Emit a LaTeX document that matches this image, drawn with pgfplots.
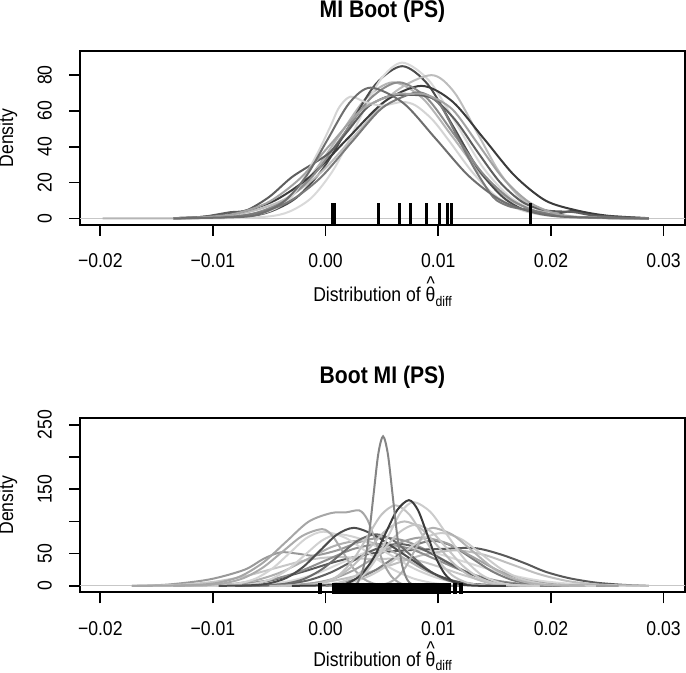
\documentclass[border=0pt]{standalone}
\usepackage{pgfplots}
\pgfplotsset{compat=1.18}
\usepackage{fontspec}
\setmainfont{Liberation Sans}[FakeStretch=0.88]
\newcommand{\thetahat}{\ooalign{θ\cr\hidewidth\raisebox{0.55em}{\textasciicircum}\hidewidth\cr}}
\pgfplotsset{
  rplot/.style={
    scale only axis, width=302.5pt, height=87pt,
    xmin=-0.0218, xmax=0.0319,
    axis line style={line width=0.8pt, black},
    every tick/.style={line width=0.8pt, black},
    tick align=outside, tick pos=left,
    major tick length=5.5pt,
    scaled x ticks=false, scaled y ticks=false,
    xtick={-0.02,-0.01,0,0.01,0.02,0.03},
    xticklabels={−0.02,−0.01,0.00,0.01,0.02,0.03},
    xticklabel shift=5.5pt, yticklabel shift=5pt,
    xticklabel style={font=\fontsize{10}{12}\selectfont},
    yticklabel style={rotate=90, anchor=south, font=\fontsize{10}{12}\selectfont},
    clip=true,
  },
  dens/.style={smooth, line width=1pt, no markers},
  zero/.style={black!22, line width=0.5pt, no markers},
}
\begin{document}
\begin{tikzpicture}
\useasboundingbox (0,0) rectangle (343pt,-336.5pt);
% ---------------- top panel ----------------
\begin{axis}[rplot, at={(40pt,-112.4pt)}, anchor=south west,
  ymin=-3.6, ymax=93.6, ytick={0,20,40,60,80}, yticklabels={0,20,40,60,80}]
\addplot[zero] coordinates {(-0.03,0) (0.04,0)};
\addplot[dens, black!29] coordinates {(-0.0198,0) (-0.0135,0.02) (-0.0084,0.84) (-0.006,3.34) (-0.0036,10.3) (-0.0012,24.7) (0.0012,46.1) (0.0036,67.1) (0.006,76) (0.0086,67.1) (0.0112,46.1) (0.0138,24.7) (0.0164,10.3) (0.019,3.34) (0.0216,0.84) (0.0268,0.02) (0.0287,0)};
\addplot[dens, black!70] coordinates {(-0.0135,0.05) (-0.0120,0.1) (-0.0073,0.9) (-0.00495,3.7) (-0.0026,11.5) (-0.00025,27.6) (0.0021,51.6) (0.00445,75.0) (0.0068,85) (0.00905,75.0) (0.0113,51.6) (0.01355,27.6) (0.0158,11.5) (0.01805,3.7) (0.0203,2.5) (0.022,4.2) (0.0235,2.5) (0.0255,0.5) (0.0287,0)};
\addplot[dens, black!15] coordinates {(-0.0135,0) (-0.0092,0.03) (-0.0052,0.97) (-0.0032,3.8) (-0.0012,11.8) (0.0008,28.2) (0.0028,52.8) (0.0048,76.8) (0.0068,87) (0.0092,76.8) (0.0116,52.8) (0.014,28.2) (0.0164,11.8) (0.0188,3.8) (0.0212,0.97) (0.026,0.03) (0.0287,0)};
\addplot[dens, black!26] coordinates {(-0.0135,0.15) (-0.0101,0.89) (-0.00685,3.5) (-0.0036,10.8) (-0.00035,26.0) (0.0029,48.5) (0.00615,70.6) (0.0094,80) (0.0114,70.6) (0.0134,48.5) (0.0154,26.0) (0.0174,10.8) (0.0194,3.5) (0.0214,0.89) (0.0254,0.02) (0.0287,0)};
\addplot[dens, black!77] coordinates {(-0.0135,0.1) (-0.011,0.82) (-0.00775,3.25) (-0.0045,10.0) (-0.00125,24.0) (0.002,44.9) (0.00525,65.3) (0.0085,74) (0.01125,65.3) (0.014,44.9) (0.01675,24.0) (0.0195,10.0) (0.02225,4.5) (0.025,1.5) (0.0287,0.1)};
\addplot[dens, black!45] coordinates {(-0.0135,0.02) (-0.0085,0.84) (-0.006,3.34) (-0.0035,10.3) (-0.001,24.7) (0.0015,46.1) (0.004,67.1) (0.0065,76) (0.009,67.1) (0.0115,46.1) (0.014,24.7) (0.0165,10.3) (0.019,3.34) (0.0215,0.84) (0.0265,0.02) (0.0287,0)};
\addplot[dens, black!63] coordinates {(-0.0135,0.1) (-0.011,0.8) (-0.0085,3.4) (-0.007,4.5) (-0.005,12) (-0.003,23) (-0.001,31) (0.0004,37) (0.002,49) (0.0037,62) (0.0055,68) (0.0075,69) (0.0095,67) (0.0115,55) (0.0135,37) (0.0155,20) (0.0175,9) (0.0195,4.5) (0.022,3.5) (0.024,1.5) (0.0287,0)};
\addplot[dens, black!17] coordinates {(-0.0135,0) (-0.010,0.5) (-0.007,1.5) (-0.005,4) (-0.003,12) (-0.001,33) (0.0004,51) (0.0012,62) (0.0022,68) (0.0035,65) (0.005,63) (0.0068,65) (0.008,63) (0.0095,55) (0.011,43) (0.013,26) (0.015,13) (0.017,5.5) (0.019,2.2) (0.022,0.6) (0.0287,0)};
\addplot[dens, black!52] coordinates {(-0.0135,0.05) (-0.0087,0.78) (-0.00595,3.1) (-0.0032,9.5) (-0.00045,22.7) (0.0023,42.5) (0.00505,61.8) (0.0078,70) (0.009,69) (0.0102,63) (0.0115,48) (0.0131,29) (0.0145,15) (0.0152,10) (0.0164,6.5) (0.0178,5) (0.019,3.5) (0.021,1.2) (0.024,0.3) (0.0287,0)};
\addplot[dens, black!36] coordinates {(-0.0135,0.1) (-0.0105,0.77) (-0.00775,3.0) (-0.005,9.3) (-0.00225,22.4) (0.0005,41.8) (0.00325,60.9) (0.006,69) (0.0075,69.5) (0.009,69) (0.01125,60.9) (0.0135,41.8) (0.01575,22.4) (0.018,9.3) (0.02025,3.0) (0.0225,0.77) (0.027,0.02) (0.0287,0)};
\addplot[dens, black!57] coordinates {(-0.0135,0) (-0.0074,0.81) (-0.0055,3.2) (-0.0036,9.9) (-0.0017,23.7) (0.0002,44.3) (0.0021,64.4) (0.004,73) (0.0069,64.4) (0.0098,44.3) (0.0127,23.7) (0.0156,9.9) (0.0185,3.2) (0.0214,0.81) (0.0287,0)};
\addplot[only marks, mark=|, mark size=5.6pt, mark options={black, line width=1.7pt}] coordinates {(0.00059,2.1) (0.00074,2.1) (0.00468,2.1) (0.00654,2.1) (0.00756,2.1) (0.00894,2.1) (0.0101,2.1) (0.01084,2.1) (0.01116,2.1) (0.01816,2.1)};
\end{axis}
% ---------------- bottom panel ----------------
\begin{axis}[rplot, at={(40pt,-296.15pt)}, anchor=south west,
  ymin=-10, ymax=260, ytick={0,50,100,150,200,250}, yticklabels={0,50,,150,,250}]
\addplot[zero] coordinates {(-0.03,0) (0.04,0)};
\addplot[dens, black!40] coordinates {(-0.0172,0) (-0.014,2) (-0.0103,10) (-0.0072,25) (-0.0055,42) (-0.0040,52) (-0.0025,50) (-0.001,47) (0.001,55) (0.003,68) (0.005,75) (0.007,70) (0.009,55) (0.011,35) (0.013,18) (0.015,7) (0.017,2.5) (0.020,0.5) (0.024,0)};
\addplot[dens, black!65] coordinates {(-0.0135,0) (-0.008,2) (-0.005,8) (-0.002,22) (0.001,38) (0.004,50) (0.007,55) (0.010,57) (0.0132,58.6) (0.0155,49) (0.0177,35) (0.0195,22) (0.0216,12) (0.024,5) (0.0265,1.5) (0.0287,0)};
\addplot[dens, black!15] coordinates {(-0.0172,0) (-0.0075,0.67) (-0.00525,2.6) (-0.003,8.1) (-0.00075,19.5) (0.0015,36.4) (0.00375,53) (0.006,60) (0.00925,53) (0.0125,36.4) (0.01575,19.5) (0.019,8.1) (0.02225,2.6) (0.0255,0.67) (0.0287,0)};
\addplot[dens, black!22] coordinates {(-0.0172,0) (-0.0155,0.5) (-0.01275,2.0) (-0.01,6.1) (-0.00725,14.6) (-0.0045,27.3) (-0.00175,39.7) (0.001,45) (0.0035,42) (0.006,42) (0.008,40) (0.010,30) (0.012,18) (0.014,8) (0.016,3) (0.019,0.5) (0.022,0)};
\addplot[dens, black!25] coordinates {(-0.008,0) (-0.005,0.61) (-0.00225,2.4) (0.0005,7.4) (0.00325,17.9) (0.006,33.4) (0.00875,48.5) (0.0115,55) (0.014,48.5) (0.0165,33.4) (0.019,17.9) (0.0215,7.4) (0.024,2.4) (0.0265,0.61) (0.0287,0)};
\addplot[dens, black!44] coordinates {(-0.0135,0) (-0.01,0.72) (-0.0075,2.9) (-0.005,8.8) (-0.0025,21.1) (0.0,39.4) (0.0025,57.4) (0.005,65) (0.0075,57.4) (0.01,39.4) (0.0125,21.1) (0.015,8.8) (0.0175,2.9) (0.02,0.72) (0.025,0)};
\addplot[dens, black!31] coordinates {(-0.0135,0) (-0.0105,0.78) (-0.00825,3.1) (-0.006,9.5) (-0.00375,22.7) (-0.0015,42.5) (0.00075,61.8) (0.003,70) (0.005,61.8) (0.007,42.5) (0.009,22.7) (0.011,9.5) (0.013,3.1) (0.015,0.78) (0.018,0)};
\addplot[dens, black!62] coordinates {(-0.008,0) (-0.0055,0.72) (-0.0035,2.9) (-0.0015,8.8) (0.0005,21.1) (0.0025,39.4) (0.0045,57.4) (0.0065,65) (0.0085,57.4) (0.0105,39.4) (0.0125,21.1) (0.0145,8.8) (0.0165,2.9) (0.0185,0.72) (0.021,0)};
\addplot[dens, black!51] coordinates {(-0.004,0) (-0.001,0.78) (0.00075,3.1) (0.0025,9.5) (0.00425,22.7) (0.006,42.5) (0.00775,61.8) (0.0095,70) (0.01125,61.8) (0.013,42.5) (0.01475,22.7) (0.0165,9.5) (0.01825,3.1) (0.02,0.78) (0.023,0)};
\addplot[dens, black!37] coordinates {(-0.0065,0) (-0.0035,0.83) (-0.0015,3.3) (0.0005,10.1) (0.0025,24.4) (0.0045,45.5) (0.0065,66.2) (0.0085,75) (0.01075,66.2) (0.013,45.5) (0.01525,24.4) (0.0175,10.1) (0.01975,3.3) (0.022,0.83) (0.026,0)};
\addplot[dens, black!18] coordinates {(-0.0105,0) (-0.0078,0.89) (-0.0063,3.5) (-0.0048,10.8) (-0.0033,26.0) (-0.0018,48.5) (-0.0003,70.6) (0.0012,80) (0.00345,70.6) (0.0057,48.5) (0.00795,26.0) (0.0102,10.8) (0.01245,3.5) (0.0147,0.89) (0.018,0)};
\addplot[dens, black!17] coordinates {(-0.0125,0) (-0.0092,0.93) (-0.0077,3.7) (-0.0062,11.4) (-0.0047,27.3) (-0.0032,50.9) (-0.0017,74.1) (-0.0002,84) (0.0018,74.1) (0.0038,50.9) (0.0058,27.3) (0.0078,11.4) (0.0098,3.7) (0.0118,0.93) (0.015,0)};
\addplot[dens, black!20] coordinates {(-0.003,0) (-0.0002,0.91) (0.00155,3.6) (0.0033,11.1) (0.00505,26.6) (0.0068,49.7) (0.00855,72.4) (0.0103,82) (0.01205,72.4) (0.0138,49.7) (0.01555,26.6) (0.0173,11.1) (0.01905,3.6) (0.0208,0.91) (0.024,0)};
\addplot[dens, black!33] coordinates {(-0.0135,0) (-0.0108,1.0) (-0.00905,3.9) (-0.0073,11.9) (-0.00555,28.6) (-0.0038,53.4) (-0.00205,77.7) (-0.0003,88) (0.0006,77.7) (0.0015,53.4) (0.0024,28.6) (0.0033,11.9) (0.0042,3.9) (0.0051,1.0) (0.007,0)};
\addplot[dens, black!58] coordinates {(-0.008,0) (-0.0051,0.89) (-0.0035,3.5) (-0.0019,10.8) (-0.0003,26.0) (0.0013,48.5) (0.0029,70.6) (0.0045,80) (0.006,70.6) (0.0075,48.5) (0.009,26.0) (0.0105,10.8) (0.012,3.5) (0.0135,0.89) (0.016,0)};
\addplot[dens, black!70] coordinates {(-0.0095,0) (-0.0065,1.0) (-0.005,4.0) (-0.0035,12.2) (-0.002,29.2) (-0.0005,54.6) (0.001,79.4) (0.0025,90) (0.00425,79.4) (0.006,60) (0.0077,40) (0.0095,20) (0.0113,8) (0.013,3) (0.016,0.5) (0.019,0)};
\addplot[dens, black!35] coordinates {(-0.0172,0) (-0.0135,0.4) (-0.0115,1.3) (-0.0095,5) (-0.0075,15.3) (-0.0055,36.7) (-0.0035,68.5) (-0.0015,99.7) (0.0005,113) (0.0018,114) (0.003,117) (0.0037,103) (0.0044,71) (0.0051,37) (0.0058,15.6) (0.0065,5.2) (0.0072,1.3) (0.009,0)};
\addplot[dens, black!26] coordinates {(-0.005,0) (-0.002,1.1) (-0.0005,4.4) (0.001,13.5) (0.0025,32.5) (0.004,60.7) (0.0055,88.3) (0.007,100) (0.0085,88.3) (0.010,60.7) (0.0115,32.5) (0.013,13.5) (0.0145,4.4) (0.016,1.1) (0.019,0)};
\addplot[dens, black!30] coordinates {(0.003,0) (0.0047,1.0) (0.0055,4.0) (0.0063,12.2) (0.0071,29.2) (0.0079,54.6) (0.0087,79.4) (0.0095,90) (0.01125,79.4) (0.013,54.6) (0.01475,29.2) (0.0165,12.2) (0.01825,4.0) (0.02,1.0) (0.023,0)};
\addplot[dens, black!22] coordinates {(-0.003,0) (-0.0004,1.05) (0.001,4.2) (0.0024,12.9) (0.0038,30.8) (0.0052,57.6) (0.0066,83.8) (0.008,95) (0.0094,83.8) (0.0108,57.6) (0.0122,30.8) (0.0136,12.9) (0.015,4.2) (0.0164,1.05) (0.019,0)};
\addplot[dens, black!24] coordinates {(-0.004,0) (-0.0013,1.4) (-0.00005,5.5) (0.0012,16.9) (0.00245,40.6) (0.0037,75.8) (0.00495,110.3) (0.0062,125) (0.00745,110.3) (0.0087,75.8) (0.00995,40.6) (0.0112,16.9) (0.01245,5.5) (0.0137,1.4) (0.016,0)};
\addplot[dens, black!20] coordinates {(-0.002,0) (0.0012,1.4) (0.0023,5.7) (0.0034,17.6) (0.0045,42.2) (0.0056,78.8) (0.0067,114.7) (0.0078,130) (0.0093,114.7) (0.0108,78.8) (0.0123,42.2) (0.0138,17.6) (0.0153,5.7) (0.0168,1.4) (0.019,0)};
\addplot[dens, black!77] coordinates {(-0.003,0) (0.0011,1.5) (0.00215,5.8) (0.0032,18.0) (0.00425,43.2) (0.0053,80.7) (0.00635,117.4) (0.0074,133) (0.0082,117.4) (0.009,80.7) (0.0098,43.2) (0.0106,18.0) (0.0114,5.8) (0.0122,1.5) (0.0138,0.05) (0.016,0)};
\addplot[dens, black!48] coordinates {(0.0,0) (0.00255,2.6) (0.002975,10.2) (0.0034,31.4) (0.003825,75.3) (0.00425,140.7) (0.004675,204.7) (0.0051,232) (0.005525,204.7) (0.00595,140.7) (0.006375,75.3) (0.0068,31.4) (0.007225,10.2) (0.00765,2.6) (0.0085,0.1) (0.012,0)};
\addplot[only marks, mark=|, mark size=2.7pt, mark options={black, line width=1.7pt}] coordinates {(-0.0005,-3.7) (0.0007,-3.7) (0.0009,-3.7) (0.0011,-3.7) (0.0013,-3.7) (0.0015,-3.7) (0.0017,-3.7) (0.0019,-3.7) (0.0021,-3.7) (0.0023,-3.7) (0.0025,-3.7) (0.0027,-3.7) (0.0029,-3.7) (0.0031,-3.7) (0.0033,-3.7) (0.0035,-3.7) (0.0037,-3.7) (0.0039,-3.7) (0.0041,-3.7) (0.0043,-3.7) (0.0045,-3.7) (0.0047,-3.7) (0.0049,-3.7) (0.0051,-3.7) (0.0053,-3.7) (0.0055,-3.7) (0.0057,-3.7) (0.0059,-3.7) (0.0061,-3.7) (0.0063,-3.7) (0.0065,-3.7) (0.0067,-3.7) (0.0069,-3.7) (0.0071,-3.7) (0.0073,-3.7) (0.0075,-3.7) (0.0077,-3.7) (0.0079,-3.7) (0.0081,-3.7) (0.0083,-3.7) (0.0085,-3.7) (0.0087,-3.7) (0.0089,-3.7) (0.0091,-3.7) (0.0093,-3.7) (0.0095,-3.7) (0.0097,-3.7) (0.0099,-3.7) (0.0101,-3.7) (0.0104,-3.7) (0.0106,-3.7) (0.0108,-3.7) (0.0110,-3.7) (0.0115,-3.7) (0.0120,-3.7)};
\end{axis}
% ---------------- titles and labels ----------------
\node[anchor=base, font=\bfseries\fontsize{12}{14}\selectfont] at (191.25pt,-8.8pt) {MI Boot (PS)};
\node[anchor=base, font=\bfseries\fontsize{12}{14}\selectfont] at (191.25pt,-192pt) {Boot MI (PS)};
\node[anchor=base, font=\fontsize{10}{12}\selectfont] at (191.25pt,-151pt) {Distribution of \thetahat\raisebox{-0.22em}{\fontsize{7}{8}\selectfont diff}};
\node[anchor=base, font=\fontsize{10}{12}\selectfont] at (191.25pt,-333.2pt) {Distribution of \thetahat\raisebox{-0.22em}{\fontsize{7}{8}\selectfont diff}};
\node[rotate=90, font=\fontsize{10}{12}\selectfont] at (4pt,-69pt) {Density};
\node[rotate=90, font=\fontsize{10}{12}\selectfont] at (4pt,-252.6pt) {Density};
\end{tikzpicture}
\end{document}
